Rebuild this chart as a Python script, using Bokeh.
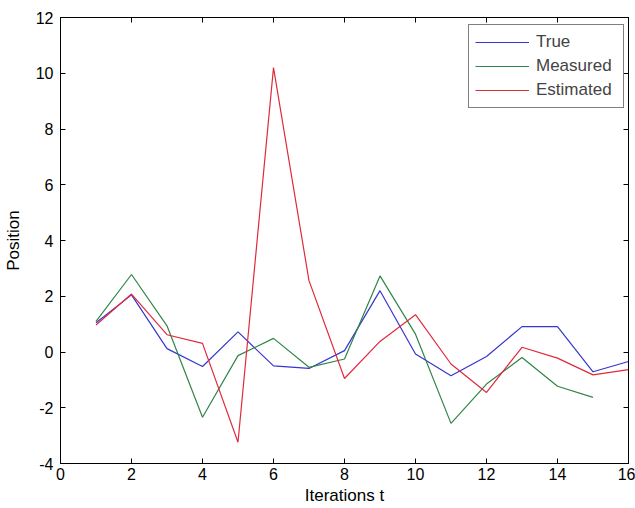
from bokeh.plotting import figure
from bokeh.models import Range1d, FixedTicker, LinearAxis, Legend, LegendItem, CustomLabelingPolicy
from bokeh.embed import file_html
from bokeh.resources import INLINE

t_true = list(range(1, 17))
true_pos = [1.05, 2.05, 0.12, -0.52, 0.72, -0.5, -0.59, 0.05, 2.2, -0.07, -0.85, -0.16, 0.91, 0.91, -0.71, -0.34]
t_meas = list(range(1, 16))
meas_pos = [1.1, 2.78, 0.94, -2.34, -0.13, 0.49, -0.55, -0.25, 2.73, 0.64, -2.56, -1.15, -0.2, -1.23, -1.63]
t_est = list(range(1, 17))
est_pos = [0.97, 2.08, 0.62, 0.31, -3.24, 10.2, 2.56, -0.95, 0.38, 1.34, -0.43, -1.45, 0.17, -0.22, -0.82, -0.63]

x_ticks = [0, 2, 4, 6, 8, 10, 12, 14, 16]
y_ticks = [-4, -2, 0, 2, 4, 6, 8, 10, 12]

FONT = "Liberation Sans"
FS = "16px"
FS_LABEL = "17px"

p = figure(width=635, height=508, output_backend="svg", toolbar_location=None,
           x_range=Range1d(0, 16), y_range=Range1d(-4, 12),
           min_border_left=60, min_border_right=7, min_border_top=17, min_border_bottom=45)

r1 = p.line(t_true, true_pos, line_color="#3636d0", line_width=1.2)
r2 = p.line(t_meas, meas_pos, line_color="#318548", line_width=1.2)
r3 = p.line(t_est, est_pos, line_color="#e02a3c", line_width=1.2)

p.xgrid.visible = False
p.ygrid.visible = False
p.outline_line_color = "black"
p.outline_line_width = 1
p.background_fill_color = "white"
p.border_fill_color = "white"

for ax in p.xaxis:
    ax.ticker = FixedTicker(ticks=x_ticks)
    ax.major_label_overrides = {v: str(v) for v in x_ticks}
for ax in p.yaxis:
    ax.ticker = FixedTicker(ticks=y_ticks)
    ax.major_label_overrides = {v: str(v) for v in y_ticks}

for ax in list(p.xaxis) + list(p.yaxis):
    ax.major_tick_in = 5
    ax.major_tick_out = 0
    ax.minor_tick_line_color = None
    ax.axis_line_color = "black"
    ax.major_tick_line_color = "black"
    ax.major_label_text_font = FONT
    ax.major_label_text_font_size = FS
    ax.major_label_text_color = "black"
    ax.axis_label_text_font = FONT
    ax.axis_label_text_font_size = FS_LABEL
    ax.axis_label_text_font_style = "normal"
    ax.axis_label_text_color = "black"

p.xaxis.axis_label = "Iterations t"
p.yaxis.axis_label = "Position"
p.xaxis.major_label_standoff = 4
p.yaxis.major_label_standoff = 7
p.xaxis.axis_label_standoff = 3
p.yaxis.axis_label_standoff = 10

hide_all = CustomLabelingPolicy(code="""
for (const i of [...indices]) { indices.unset(i) }
return indices
""")

top = LinearAxis(ticker=FixedTicker(ticks=x_ticks), major_tick_in=5, major_tick_out=0,
                 minor_tick_line_color=None, major_label_policy=hide_all,
                 major_label_text_font_size="1px",
                 major_label_standoff=0, axis_line_color="black")
right = LinearAxis(ticker=FixedTicker(ticks=y_ticks), major_tick_in=5, major_tick_out=0,
                   minor_tick_line_color=None, major_label_policy=hide_all,
                   major_label_text_font_size="1px",
                   major_label_standoff=0, axis_line_color="black")
p.add_layout(top, "above")
p.add_layout(right, "right")

legend = Legend(items=[LegendItem(label="True", renderers=[r1]),
                       LegendItem(label="Measured", renderers=[r2]),
                       LegendItem(label="Estimated", renderers=[r3])],
                location=(408, 355))
legend.border_line_color = "black"
legend.border_line_width = 1
legend.background_fill_color = "white"
legend.background_fill_alpha = 1
legend.label_text_font = FONT
legend.label_text_font_size = FS_LABEL
legend.glyph_width = 54
legend.glyph_height = 22
legend.label_height = 22
legend.label_width = 81
legend.label_standoff = 7
legend.spacing = 2
legend.padding = 6
legend.margin = 0
p.add_layout(legend, "center")

open("out.html", "w").write(file_html(p, INLINE))
